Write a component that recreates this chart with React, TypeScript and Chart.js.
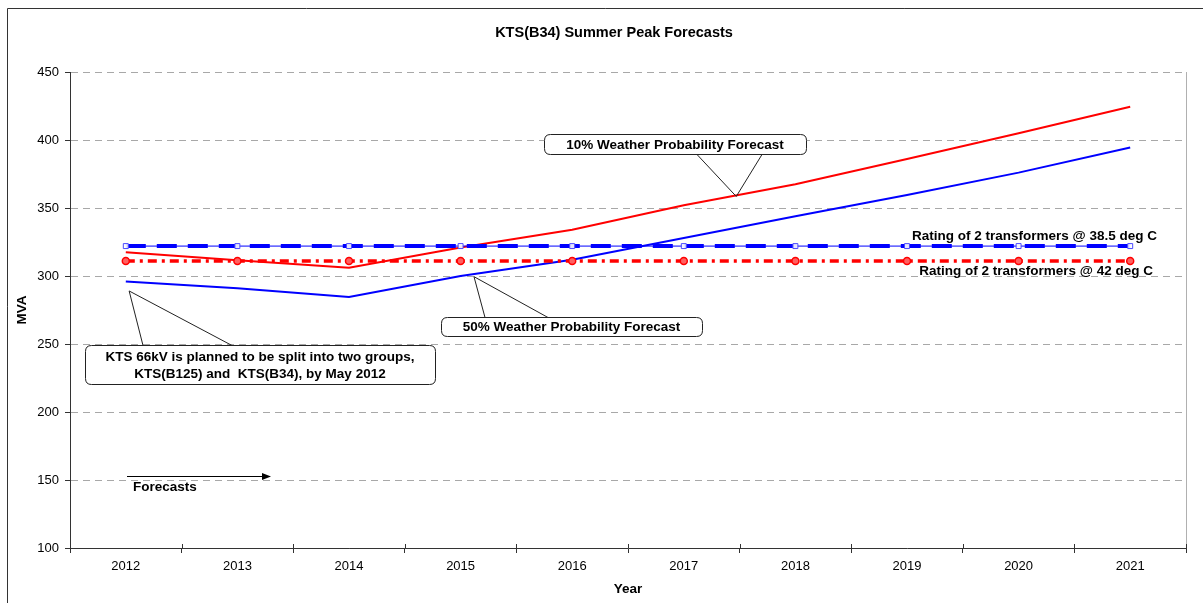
import React, { useEffect, useRef } from "react";
import { Chart, registerables } from "chart.js";

Chart.register(...registerables);

const years = ["2012", "2013", "2014", "2015", "2016", "2017", "2018", "2019", "2020", "2021"];
const forecast10 = [317.5, 311.5, 306, 321, 334, 352, 367.5, 386, 405, 424.5];
const forecast50 = [296, 291, 284.5, 300, 312, 328, 344, 359.5, 376, 394.5];
const rating385 = [322, 322, 322, 322, 322, 322, 322, 322, 322, 322];
const rating42 = [311, 311, 311, 311, 311, 311, 311, 311, 311, 311];

const chartTitle = "KTS(B34) Summer Peak Forecasts";
const yTitle = "MVA";
const xTitle = "Year";
const label10 = "10% Weather Probability Forecast";
const label50 = "50% Weather Probability Forecast";
const labelKTS = ["KTS 66kV is planned to be split into two groups,", "KTS(B125) and  KTS(B34), by May 2012"];
const labelRating385 = "Rating of 2 transformers @ 38.5 deg C";
const labelRating42 = "Rating of 2 transformers @ 42 deg C";
const labelForecasts = "Forecasts";

const FONT = "'Liberation Sans', Arial, sans-serif";
const BOLD = `bold 13.5px ${FONT}`;

type Callout = {
  box: { x: number; y: number; w: number; h: number };
  lines: string[];
  baseY: number;
  baseX: [number, number];
  tip: { i: number; v: number };
};

const callouts: Callout[] = [
  { box: { x: 544, y: 134, w: 262, h: 20 }, lines: [label10], baseY: 154, baseX: [697, 762], tip: { i: 5.47, v: 358.5 } },
  { box: { x: 441, y: 317, w: 261, h: 19 }, lines: [label50], baseY: 317, baseX: [485, 548], tip: { i: 3.12, v: 299.5 } },
  { box: { x: 85, y: 345, w: 350, h: 39 }, lines: labelKTS, baseY: 345, baseX: [143, 232], tip: { i: 0.03, v: 289 } },
];

function roundRect(ctx: CanvasRenderingContext2D, x: number, y: number, w: number, h: number, r: number) {
  ctx.beginPath();
  ctx.moveTo(x + r, y);
  ctx.lineTo(x + w - r, y);
  ctx.quadraticCurveTo(x + w, y, x + w, y + r);
  ctx.lineTo(x + w, y + h - r);
  ctx.quadraticCurveTo(x + w, y + h, x + w - r, y + h);
  ctx.lineTo(x + r, y + h);
  ctx.quadraticCurveTo(x, y + h, x, y + h - r);
  ctx.lineTo(x, y + r);
  ctx.quadraticCurveTo(x, y, x + r, y);
  ctx.closePath();
}

const overlayPlugin = {
  id: "overlay",
  beforeDraw(chart: any) {
    const ctx: CanvasRenderingContext2D = chart.ctx;
    ctx.save();
    ctx.fillStyle = "#fff";
    ctx.fillRect(0, 0, chart.width, chart.height);
    ctx.strokeStyle = "#333";
    ctx.lineWidth = 1;
    ctx.beginPath();
    ctx.moveTo(7.5, chart.height + 5);
    ctx.lineTo(7.5, 8.5);
    ctx.lineTo(chart.width + 5, 8.5);
    ctx.stroke();
    const a = chart.chartArea;
    ctx.strokeStyle = "#b0b0b0";
    ctx.beginPath();
    ctx.moveTo(Math.round(a.right) + 0.5, a.top);
    ctx.lineTo(Math.round(a.right) + 0.5, a.bottom);
    ctx.stroke();
    ctx.restore();
  },
  afterDraw(chart: any) {
    const ctx: CanvasRenderingContext2D = chart.ctx;
    const xs = chart.scales.x;
    const ys = chart.scales.y;
    const a = chart.chartArea;
    const x0 = xs.getPixelForValue(0);
    const dx = xs.getPixelForValue(1) - x0;
    ctx.save();

    // inner half of x tick marks (ticks cross the axis)
    ctx.strokeStyle = "#333";
    ctx.lineWidth = 1;
    for (let k = 0; k <= years.length; k++) {
      const px = Math.round(x0 + (k - 0.5) * dx) + 0.5;
      ctx.beginPath();
      ctx.moveTo(px, a.bottom - 4);
      ctx.lineTo(px, a.bottom);
      ctx.stroke();
    }

    ctx.fillStyle = "#000";
    ctx.textBaseline = "middle";

    // titles
    ctx.font = `bold 14.5px ${FONT}`;
    ctx.textAlign = "center";
    ctx.fillText(chartTitle, 614, 33);
    ctx.font = BOLD;
    ctx.fillText(xTitle, 628, 589);
    ctx.save();
    ctx.translate(22, 310);
    ctx.rotate(-Math.PI / 2);
    ctx.fillText(yTitle, 0, 0);
    ctx.restore();

    // rating labels
    ctx.textAlign = "right";
    ctx.fillText(labelRating385, 1157, 236);
    ctx.fillText(labelRating42, 1153, 271);

    // callouts
    for (const c of callouts) {
      const tx = x0 + c.tip.i * dx;
      const ty = ys.getPixelForValue(c.tip.v);
      const { x, y, w, h } = c.box;
      ctx.fillStyle = "#fff";
      ctx.strokeStyle = "#222";
      ctx.lineWidth = 1;
      roundRect(ctx, x + 0.5, y + 0.5, w, h, 6);
      ctx.fill();
      ctx.stroke();
      ctx.beginPath();
      ctx.moveTo(c.baseX[0], c.baseY + 0.5);
      ctx.lineTo(tx, ty);
      ctx.lineTo(c.baseX[1], c.baseY + 0.5);
      ctx.stroke();
      ctx.fillStyle = "#000";
      ctx.textAlign = "center";
      ctx.font = BOLD;
      const lh = 17;
      const cy = y + h / 2 - ((c.lines.length - 1) * lh) / 2 + 1;
      c.lines.forEach((ln, k) => ctx.fillText(ln, x + w / 2, cy + k * lh));
    }

    // forecasts arrow
    ctx.strokeStyle = "#000";
    ctx.lineWidth = 1;
    ctx.beginPath();
    ctx.moveTo(127, 476.5);
    ctx.lineTo(263, 476.5);
    ctx.stroke();
    ctx.beginPath();
    ctx.moveTo(271, 476.5);
    ctx.lineTo(262, 473);
    ctx.lineTo(262, 480);
    ctx.closePath();
    ctx.fill();
    ctx.textAlign = "left";
    ctx.font = BOLD;
    ctx.fillText(labelForecasts, 133, 487);

    ctx.restore();
  },
};

export default function App() {
  const ref = useRef<HTMLCanvasElement | null>(null);
  useEffect(() => {
    if (!ref.current) return;
    const chart = new Chart(ref.current, {
      type: "line",
      data: {
        labels: years,
        datasets: [
          {
            label: "Rating 38.5 thin",
            data: rating385,
            borderColor: "#0000ff",
            borderWidth: 1,
            pointStyle: "rect",
            pointRadius: 3.5,
            pointBorderColor: "#4a4aff",
            pointBackgroundColor: "rgba(255,255,255,0.9)",
            pointBorderWidth: 1,
            fill: false,
          },
          {
            label: "Rating 38.5",
            data: rating385,
            borderColor: "#0000ff",
            borderWidth: 4,
            borderDash: [20, 11],
            pointRadius: 0,
            fill: false,
          },
          {
            label: "Rating 42",
            data: rating42,
            borderColor: "#ff0000",
            borderWidth: 3.5,
            borderDash: [9, 5, 3, 5],
            pointStyle: "circle",
            pointRadius: 3.5,
            pointBorderColor: "#ff0000",
            pointBackgroundColor: "#ff6060",
            pointBorderWidth: 1.5,
            fill: false,
          },
          {
            label: "10%",
            data: forecast10,
            borderColor: "#ff0000",
            borderWidth: 2,
            pointRadius: 0,
            tension: 0,
            fill: false,
          },
          {
            label: "50%",
            data: forecast50,
            borderColor: "#0000ff",
            borderWidth: 2,
            pointRadius: 0,
            tension: 0,
            fill: false,
          },
        ],
      },
      options: {
        responsive: false,
        animation: false,
        events: [],
        layout: { padding: { top: 72, right: 17, left: 0, bottom: 0 } },
        plugins: {
          legend: { display: false },
          title: { display: false },
          tooltip: { enabled: false },
        },
        scales: {
          x: {
            offset: true,
            grid: {
              offset: true,
              drawOnChartArea: false,
              drawTicks: true,
              tickLength: 5,
              color: "#333",
              tickColor: "#333",
            },
            border: { color: "#333", width: 1 },
            ticks: {
              padding: 6,
              color: "#000",
              font: { family: FONT, size: 13 },
              maxRotation: 0,
            },
            afterFit: (s: any) => {
              s.height = 55;
            },
          },
          y: {
            min: 100,
            max: 450,
            ticks: {
              stepSize: 50,
              padding: 6,
              color: "#000",
              font: { family: FONT, size: 13 },
            },
            grid: {
              color: "#a8a8a8",
              lineWidth: 1,
              drawTicks: true,
              tickLength: 5,
              tickColor: "#333",
              tickBorderDash: [],
            },
            border: { color: "#333", width: 1, dash: [7, 5] },
            afterFit: (s: any) => {
              s.width = 70;
            },
          },
        },
      },
      plugins: [overlayPlugin],
    });
    return () => chart.destroy();
  }, []);
  return (
    <div style={{ position: "absolute", left: 0, top: 0, width: 1203, height: 603 }}>
      <canvas ref={ref} width={1203} height={603} style={{ display: "block" }} />
    </div>
  );
}
